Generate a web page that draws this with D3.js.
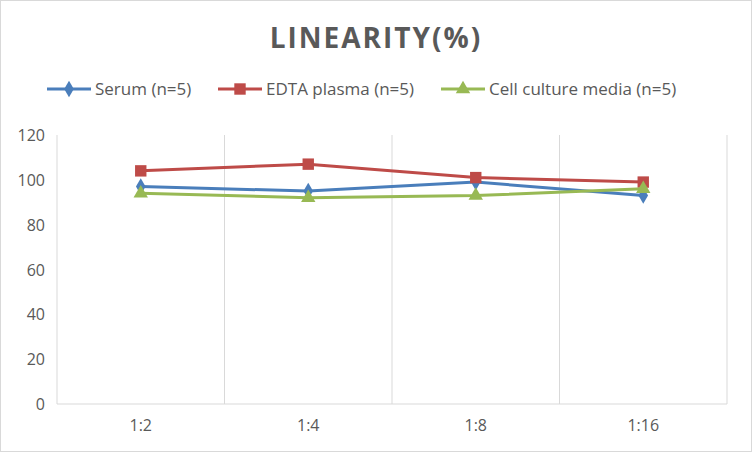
<!DOCTYPE html><html><head><script src="https://cdn.jsdelivr.net/npm/d3@7"></script>
<style>body{margin:0;background:#fff}</style></head><body><svg id="c" width="752" height="452"></svg>
<script>
const categories=["1:2","1:4","1:8","1:16"];
const serum=[97,95,99,93];
const edta=[104,107,101,99];
const cell=[94,92,93,96];
const yTicks=[0,20,40,60,80,100,120];
const series=[
 {name:"Serum (n=5)",values:serum,color:"#4a7ebb",shape:d3.symbolDiamond,size:80},
 {name:"EDTA plasma (n=5)",values:edta,color:"#be4b48",shape:d3.symbolSquare,size:130},
 {name:"Cell culture media (n=5)",values:cell,color:"#98b954",shape:d3.symbolTriangle,size:90}];
const F="Open Sans, DejaVu Sans, sans-serif";
const svg=d3.select("#c");
svg.append("rect").attr("x",0.5).attr("y",0.5).attr("width",751).attr("height",451).attr("fill","#fff").attr("stroke","#d9d9d9");
const x=d3.scaleBand().domain(categories).range([57,727]);
const y=d3.scaleLinear().domain([0,120]).range([404,135]);
const g=svg.append("g");
[...categories.map(c=>x(c)),727].forEach((v,i)=>{ if(i>0) g.append("line").attr("x1",v).attr("x2",v).attr("y1",135).attr("y2",404).attr("stroke","#d9d9d9");});
g.append("line").attr("x1",57).attr("x2",57).attr("y1",135).attr("y2",404).attr("stroke","#d9d9d9");
g.append("line").attr("x1",57).attr("x2",727).attr("y1",404).attr("y2",404).attr("stroke","#d9d9d9");
yTicks.forEach(t=>g.append("text").attr("x",45).attr("y",y(t)+6).attr("text-anchor","end").attr("font-family",F).attr("font-size",16).attr("fill","#595959").text(t));
categories.forEach(c=>g.append("text").attr("x",x(c)+x.bandwidth()/2).attr("y",431).attr("text-anchor","middle").attr("font-family",F).attr("font-size",16).attr("fill","#595959").text(c));
const line=d3.line().x((d,i)=>x(categories[i])+x.bandwidth()/2).y(d=>y(d));
series.forEach(s=>{
 g.append("path").attr("d",line(s.values)).attr("fill","none").attr("stroke",s.color).attr("stroke-width",3);
 s.values.forEach((v,i)=>g.append("path").attr("d",d3.symbol(s.shape,s.size)()).attr("transform",`translate(${x(categories[i])+x.bandwidth()/2},${y(v)})`).attr("fill",s.color));
});
svg.append("text").attr("x",376).attr("y",48).attr("text-anchor","middle").attr("font-family",F).attr("font-weight","bold").attr("font-size",28).attr("letter-spacing",2).attr("fill","#595959").text("LINEARITY(%)");
const lx=[47,218,441];
series.forEach((s,i)=>{
 svg.append("line").attr("x1",lx[i]).attr("x2",lx[i]+44).attr("y1",89).attr("y2",89).attr("stroke",s.color).attr("stroke-width",3);
 svg.append("path").attr("d",d3.symbol(s.shape,s.size)()).attr("transform",`translate(${lx[i]+22},89)`).attr("fill",s.color);
 svg.append("text").attr("x",lx[i]+48).attr("y",95).attr("font-family",F).attr("font-size",17).attr("fill","#595959").text(s.name);
});
</script></body></html>
